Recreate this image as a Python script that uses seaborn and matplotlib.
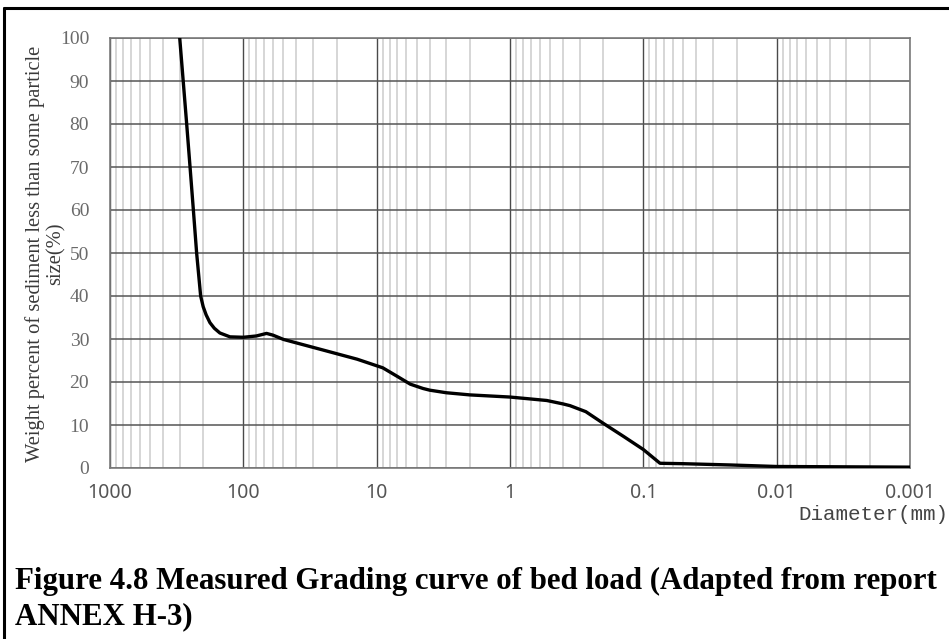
import matplotlib
matplotlib.use("Agg")
import matplotlib.pyplot as plt
import matplotlib.ticker as mticker
from matplotlib.lines import Line2D
import seaborn as sns
import pandas as pd

# Grading curve of bed load: particle diameter (mm) vs cumulative weight percent finer
diameter_mm = [300, 266, 251, 237, 224, 209, 200, 190, 178, 165, 150, 126, 100,
               80, 67, 60, 50, 25, 14, 9, 7, 5.6, 4.5, 4.0, 3.0, 2.0, 1.0,
               0.53, 0.4, 0.355, 0.27, 0.2, 0.14, 0.1, 0.075, 0.05, 0.022,
               0.01, 0.001]
percent_finer = [100, 80, 70, 60, 50, 40, 37.5, 35.6, 33.8, 32.5, 31.4, 30.5, 30.4,
                 30.7, 31.3, 30.9, 29.9, 27.4, 25.3, 23.3, 21.3, 19.5, 18.5, 18.1,
                 17.5, 17.0, 16.5, 15.7, 14.9, 14.5, 13.1, 10.4, 7.3, 4.3, 1.1,
                 1.0, 0.7, 0.35, 0.2]

x_ticks = [1000, 100, 10, 1, 0.1, 0.01, 0.001]
x_tick_labels = ["1000", "100", "10", "1", "0.1", "0.01", "0.001"]
y_ticks = [0, 10, 20, 30, 40, 50, 60, 70, 80, 90, 100]

y_title = "Weight percent of sediment less than some particle\nsize(%)"
x_title = "Diameter(mm)"
caption = ("Figure 4.8 Measured Grading curve of bed load (Adapted from report\n"
           "ANNEX H-3)")

df = pd.DataFrame({"diameter": diameter_mm, "percent": percent_finer})

sns.set_theme(style="white")
plt.rcParams["font.family"] = ["DejaVu Sans"]

W, H = 949, 639
fig = plt.figure(figsize=(W / 100, H / 100), dpi=100)
ax = fig.add_axes([110 / W, 1 - 468 / H, 800 / W, 430 / H])

sns.lineplot(data=df, x="diameter", y="percent", sort=False, estimator=None,
             color="black", linewidth=2.4, ax=ax, zorder=5)

ax.set_xscale("log")
ax.set_xlim(1000, 0.001)
ax.set_ylim(0, 100)

ax.xaxis.set_major_locator(mticker.FixedLocator(x_ticks))
ax.xaxis.set_major_formatter(mticker.FixedFormatter(x_tick_labels))
ax.xaxis.set_minor_locator(mticker.LogLocator(base=10, subs=range(2, 10), numticks=20))
ax.xaxis.set_minor_formatter(mticker.NullFormatter())
ax.set_yticks(y_ticks)

ax.grid(which="minor", axis="x", color="#cfcfcf", linewidth=1.2, zorder=1)
ax.grid(which="major", axis="x", color="#4a4a4a", linewidth=1.0, zorder=2)
ax.grid(which="major", axis="y", color="#555555", linewidth=1.1, zorder=2)
ax.set_axisbelow(True)

for s in ax.spines.values():
    s.set_color("#7a7a7a")
    s.set_linewidth(1.2)

ax.tick_params(axis="both", which="both", length=0)
ax.tick_params(axis="x", pad=11, labelsize=14, labelcolor="#555555")
ax.tick_params(axis="y", pad=15, labelsize=14, labelcolor="#6a6a6a")
for lab in ax.get_yticklabels():
    lab.set_fontfamily("Liberation Serif")
for lab in ax.get_xticklabels():
    lab.set_fontfamily("Noto Sans")

ax.set_xlabel("")
ax.set_ylabel("")

# axis titles
fig.text(45 / W, 1 - 254 / H, y_title, rotation=90, ha="center", va="center",
         multialignment="center", fontsize=14.8, family="Liberation Serif",
         color="#3a3a3a", linespacing=1.1)
fig.text(948 / W, 1 - 514 / H, x_title, ha="right", va="center",
         fontsize=15, family="Liberation Mono", color="#444444")

# caption
fig.text(15 / W, 1 - 567 / H, caption, ha="left", va="top", fontsize=22.2,
         family="Liberation Serif", fontweight="bold", color="black",
         linespacing=1.3)

# surrounding frame (top and left edges)
fig.add_artist(Line2D([3.5 / W, 1.0], [1 - 8 / H, 1 - 8 / H],
                      transform=fig.transFigure, color="black", linewidth=2.2))
fig.add_artist(Line2D([3.5 / W, 3.5 / W], [0, 1 - 8 / H],
                      transform=fig.transFigure, color="black", linewidth=2.2))

fig.savefig("out.png", dpi=100, facecolor="white")
